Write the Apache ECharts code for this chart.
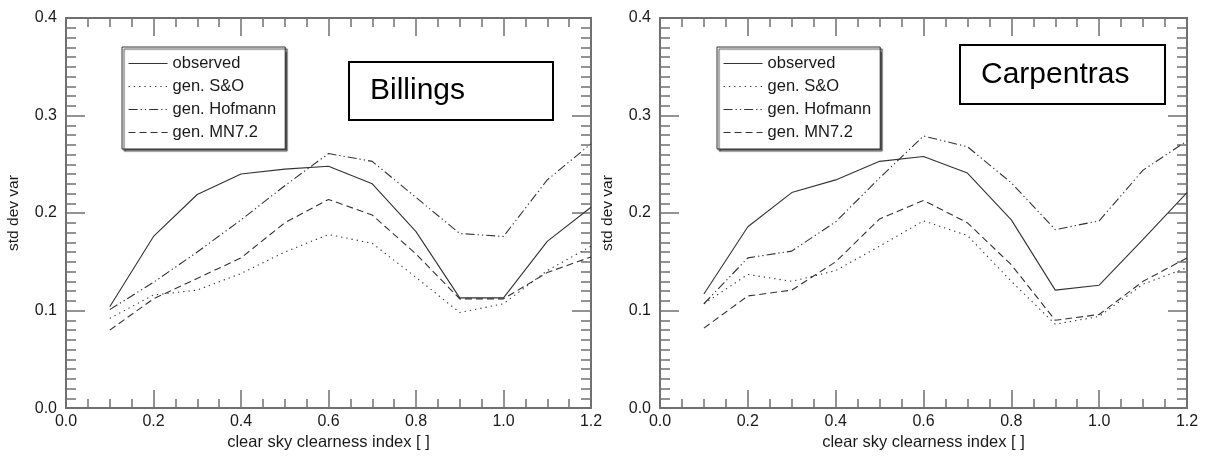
<!DOCTYPE html>
<html>
<head>
<meta charset="utf-8">
<script src="https://cdn.jsdelivr.net/npm/echarts@6/dist/echarts.min.js"></script>
<style>
html,body{margin:0;padding:0;background:#fff;}
#chart{width:1207px;height:456px;}
</style>
</head>
<body>
<div id="chart"></div>
<script>
// ---- data ----
const xValues = [0.1, 0.2, 0.3, 0.4, 0.5, 0.6, 0.7, 0.8, 0.9, 1.0, 1.1, 1.2];
const seriesNames = ['observed', 'gen. S&O', 'gen. Hofmann', 'gen. MN7.2'];

const billingsObserved = [0.104, 0.176, 0.219, 0.240, 0.245, 0.248, 0.230, 0.181, 0.113, 0.113, 0.171, 0.206];
const billingsSO       = [0.092, 0.116, 0.121, 0.138, 0.160, 0.178, 0.169, 0.134, 0.098, 0.107, 0.141, 0.166];
const billingsHofmann  = [0.101, 0.129, 0.160, 0.193, 0.228, 0.261, 0.253, 0.216, 0.179, 0.176, 0.234, 0.271];
const billingsMN72     = [0.080, 0.112, 0.133, 0.154, 0.190, 0.214, 0.198, 0.158, 0.112, 0.112, 0.139, 0.155];

const carpentrasObserved = [0.117, 0.186, 0.221, 0.234, 0.253, 0.258, 0.241, 0.193, 0.121, 0.126, 0.173, 0.221];
const carpentrasSO       = [0.107, 0.137, 0.130, 0.141, 0.166, 0.192, 0.177, 0.130, 0.086, 0.094, 0.127, 0.144];
const carpentrasHofmann  = [0.107, 0.154, 0.161, 0.191, 0.236, 0.279, 0.268, 0.231, 0.183, 0.192, 0.244, 0.274];
const carpentrasMN72     = [0.082, 0.115, 0.121, 0.150, 0.194, 0.213, 0.190, 0.147, 0.090, 0.096, 0.130, 0.154];

const siteTitles = ['Billings', 'Carpentras'];
const xAxisTitle = 'clear sky clearness index [ ]';
const yAxisTitle = 'std dev var';

// ---- styling ----
const FONT = "'Liberation Sans', Arial, Helvetica, sans-serif";
const LINE_COLOR = '#333';
const AXIS_COLOR = '#707070';
const TEXT_COLOR = '#1a1a1a';
const dashTypes = ['solid', [1.3, 4], [9, 3, 1.3, 3, 1.3, 3], [7, 4]];

const grids = [
  {left: 66, top: 18, width: 525, height: 398.7},
  {left: 660, top: 18, width: 527, height: 398.7}
];

function makeX(gridIndex, position, showLabels, showName) {
  return {
    type: 'value', gridIndex: gridIndex, position: position,
    min: 0, max: 1.2, interval: 0.2,
    name: showName ? xAxisTitle : '', nameLocation: 'middle', nameGap: 21,
    nameTextStyle: {fontFamily: FONT, fontSize: 16.5, color: TEXT_COLOR},
    axisLine: {show: true, onZero: false, lineStyle: {color: AXIS_COLOR, width: 2}},
    axisTick: {show: true, inside: true, length: 18, lineStyle: {color: AXIS_COLOR, width: 1.5}},
    minorTick: {show: true, splitNumber: 4, length: 9, lineStyle: {color: AXIS_COLOR, width: 1.5}},
    axisLabel: {show: showLabels, margin: 5, fontFamily: FONT, fontSize: 16, color: TEXT_COLOR,
      formatter: v => v.toFixed(1)},
    splitLine: {show: false}, minorSplitLine: {show: false}
  };
}
function makeY(gridIndex, position, showLabels, showName) {
  return {
    type: 'value', gridIndex: gridIndex, position: position,
    min: 0, max: 0.4, interval: 0.1,
    name: showName ? yAxisTitle : '', nameLocation: 'middle', nameGap: 44,
    nameTextStyle: {fontFamily: FONT, fontSize: 15.5, color: TEXT_COLOR},
    axisLine: {show: true, onZero: false, lineStyle: {color: AXIS_COLOR, width: 2}},
    axisTick: {show: true, inside: true, length: 19, lineStyle: {color: AXIS_COLOR, width: 1.5}},
    minorTick: {show: true, splitNumber: 10, length: 10, lineStyle: {color: AXIS_COLOR, width: 1.5}},
    axisLabel: {show: showLabels, margin: 9, fontFamily: FONT, fontSize: 16, color: TEXT_COLOR,
      formatter: v => v.toFixed(1)},
    splitLine: {show: false}, minorSplitLine: {show: false}
  };
}

const xAxes = [makeX(0, 'bottom', true, true), makeX(0, 'top', false, false),
               makeX(1, 'bottom', true, true), makeX(1, 'top', false, false)];
const yAxes = [makeY(0, 'left', true, true), makeY(0, 'right', false, false),
               makeY(1, 'left', true, true), makeY(1, 'right', false, false)];

const billingsSets = [billingsObserved, billingsSO, billingsHofmann, billingsMN72];
const carpentrasSets = [carpentrasObserved, carpentrasSO, carpentrasHofmann, carpentrasMN72];

function toPairs(vals) { return xValues.map((x, i) => [x, vals[i]]); }

const series = [];
[billingsSets, carpentrasSets].forEach((sets, g) => {
  sets.forEach((vals, k) => {
    series.push({
      name: seriesNames[k], type: 'line',
      xAxisIndex: g * 2, yAxisIndex: g * 2,
      data: toPairs(vals),
      symbol: 'none', showSymbol: false, silent: true, animation: false,
      lineStyle: {color: LINE_COLOR, width: 1.1, type: dashTypes[k], cap: 'butt'},
      itemStyle: {color: LINE_COLOR}
    });
  });
});

function makeLegend(left) {
  return {
    orient: 'vertical', left: left, top: 47,
    data: seriesNames,
    itemWidth: 39, itemHeight: 14, itemGap: 6,
    padding: [8, 9, 8, 6],
    backgroundColor: '#fff', borderColor: '#333', borderWidth: 1,
    shadowColor: 'rgba(60,60,60,0.9)', shadowOffsetX: 2, shadowOffsetY: 2, shadowBlur: 1,
    textStyle: {fontFamily: FONT, fontSize: 16.5, color: TEXT_COLOR},
    selectedMode: false,
    itemStyle: {color: 'rgba(0,0,0,0)', borderWidth: 0, opacity: 0},
    lineStyle: {width: 1.1}
  };
}

function titleBox(x, y, w, h, text) {
  return {
    type: 'group', left: x, top: y,
    children: [
      {type: 'rect', shape: {x: 0, y: 0, width: w, height: h},
       style: {fill: '#fff', stroke: '#000', lineWidth: 2}},
      {type: 'text', x: 21, y: h / 2,
       style: {text: text, font: '30px ' + FONT, fill: '#000', verticalAlign: 'middle', align: 'left'}}
    ]
  };
}

const chart = echarts.init(document.getElementById('chart'), null, {renderer: 'canvas'});
chart.setOption({
  backgroundColor: '#fff',
  animation: false,
  grid: grids,
  xAxis: xAxes,
  yAxis: yAxes,
  legend: [makeLegend(122), makeLegend(717)],
  series: series,
  graphic: [titleBox(348, 61, 204, 58, siteTitles[0]), titleBox(959, 44, 205, 59, siteTitles[1])]
});
</script>
</body>
</html>
